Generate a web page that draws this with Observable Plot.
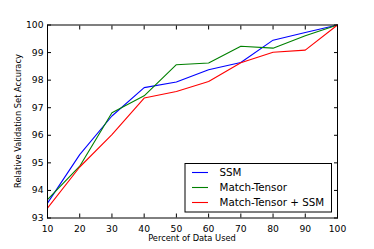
<!DOCTYPE html>
<html><head><meta charset="utf-8">
<script src="https://cdn.jsdelivr.net/npm/d3@7"></script>
<script src="https://cdn.jsdelivr.net/npm/@observablehq/plot@0.6"></script>
<style>
body{margin:0;background:#fff;}
#chart{position:relative;width:374px;height:249px;}
svg{font-family:"DejaVu Sans",sans-serif;}
</style></head><body><div id="chart"></div>
<script>
const percents = [10,20,30,40,50,60,70,80,90,100];
const ssm = [93.54,95.30,96.70,97.73,97.93,98.38,98.64,99.45,99.73,100];
const matchTensor = [93.67,94.88,96.82,97.43,98.56,98.62,99.23,99.16,99.61,100];
const combined = [93.36,94.85,96.02,97.35,97.59,97.95,98.63,99.01,99.09,100];
const seriesNames = ["SSM","Match-Tensor","Match-Tensor + SSM"];
const seriesColors = ["#0000ff","#008000","#ff0000"];
const xTicks = [10,20,30,40,50,60,70,80,90,100];
const yTicks = [93,94,95,96,97,98,99,100];

const rows = [];
[ssm, matchTensor, combined].forEach((arr, s) => arr.forEach((v, i) => rows.push({x: percents[i], y: v, s: seriesNames[s]})));

const W = 374, H = 249;
const plot = Plot.plot({
  width: W, height: H,
  marginLeft: 47, marginRight: 37, marginTop: 24.5, marginBottom: 31.5,
  style: {background: "#fff", fontFamily: "DejaVu Sans, sans-serif", fontSize: "9px", color: "#000", overflow: "visible"},
  x: {domain: [10, 100]},
  y: {domain: [93, 100]},
  color: {domain: seriesNames, range: seriesColors},
  marks: [
    Plot.axisX({anchor: "bottom", ticks: xTicks, tickSize: -4, tickPadding: 11, tickFormat: d3.format("d"), label: null, fontSize: 9.2}),
    Plot.axisX({anchor: "top", ticks: xTicks, tickSize: -4, tickFormat: () => "", label: null}),
    Plot.axisY({anchor: "left", ticks: yTicks, tickSize: -4, tickPadding: 8, tickFormat: d3.format("d"), label: null, fontSize: 9.2}),
    Plot.axisY({anchor: "right", ticks: yTicks, tickSize: -4, tickFormat: () => "", label: null}),
    Plot.line(rows, {x: "x", y: "y", z: "s", stroke: "s", strokeWidth: 1.1}),
    Plot.frame({stroke: "#000", strokeWidth: 1})
  ]
});
document.getElementById("chart").appendChild(plot);

const svg = d3.select(plot);
// axis labels
svg.append("text").attr("x", 192).attr("y", 240.5).attr("text-anchor", "middle")
  .attr("font-size", 8.3).text("Percent of Data Used");
svg.append("text").attr("transform", "translate(21,121) rotate(-90)").attr("text-anchor", "middle")
  .attr("font-size", 8.3).text("Relative Validation Set Accuracy");

// legend
const lg = svg.append("g").attr("text-anchor", "start");
lg.append("rect").attr("x", 185).attr("y", 163.5).attr("width", 146.5).attr("height", 48.5)
  .attr("fill", "#fff").attr("stroke", "#000").attr("stroke-width", 1);
seriesNames.forEach((n, i) => {
  const yy = 172.5 + i * 15;
  lg.append("line").attr("x1", 192).attr("x2", 208).attr("y1", yy).attr("y2", yy)
    .attr("stroke", seriesColors[i]).attr("stroke-width", 1.1);
  lg.append("text").attr("x", 219.5).attr("y", yy).attr("dy", "0.35em").attr("text-anchor", "start")
    .attr("font-size", 10.3).text(n);
});
</script></body></html>
